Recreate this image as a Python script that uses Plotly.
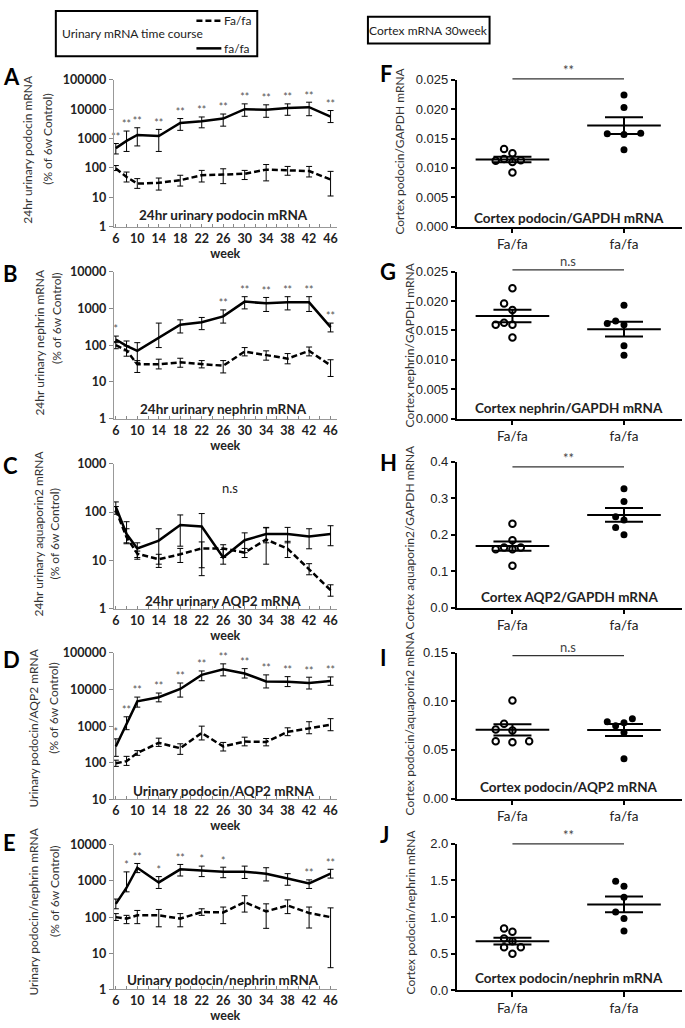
import numpy as np
import plotly.graph_objects as go

W, H = 685, 1028

weeks = [6, 8, 10, 14, 18, 22, 26, 30, 34, 38, 42, 46]

# ---- urinary time course (% of 6w control); het = Fa/fa, obe = fa/fa ----
a_het = [95, 49, 29, 31, 38, 56, 59, 63, 87, 82, 78, 40]
a_het_hi = [120, 72, 43, 45, 56, 82, 93, 82, 130, 112, 112, 76]
a_het_lo = [81, 33, 20, 17.5, 24, 33, 29, 40, 36, 56, 49, 11]
a_obe = [472, 830, 1320, 1220, 3400, 3900, 4800, 10000, 9600, 11000, 11700, 5600]
a_obe_hi = [676, 1800, 2330, 2050, 4800, 5430, 6850, 15200, 14100, 15200, 17300, 9000]
a_obe_lo = [298, 363, 560, 363, 1900, 2320, 2640, 5740, 5300, 6200, 6000, 3500]
a_stars = ["**"] * 12

b_het = [100, 72, 30, 30, 34, 30, 27.5, 67, 53, 43, 70, 28]
b_het_hi = [125, 95, 38, 41.5, 44, 38, 38, 86, 70, 59, 89, 40]
b_het_lo = [80, 50, 18, 22.5, 25, 24, 17.5, 51, 39, 31, 51, 14]
b_obe = [143, 96, 70, 160, 360, 420, 610, 1540, 1380, 1470, 1470, 310]
b_obe_hi = [177, 130, 117, 400, 490, 570, 915, 2100, 2000, 2100, 2100, 400]
b_obe_lo = [117, 70, 34, 86, 215, 265, 400, 975, 830, 915, 830, 230]
b_stars = ["*", "", "", "", "", "", "**", "**", "**", "**", "**", "**"]

c_het = [110, 30, 13.7, 10.5, 13.3, 17.6, 17.6, 14.4, 27, 17.3, 6.5, 2.4]
c_het_hi = [130, 45, 15.5, 13.3, 17.6, 24, 21, 17.6, 47, 24.7, 8.5, 3.1]
c_het_lo = [90, 22, 11.4, 7.1, 9, 7, 11.4, 11.4, 8.3, 11.4, 5, 1.8]
c_obe = [128, 35, 17.6, 25.6, 54, 50, 11.4, 26, 35, 35, 31, 35]
c_obe_hi = [162, 63, 23, 45, 87, 93, 16.7, 37, 48, 48, 45, 52]
c_obe_lo = [101, 23, 10.5, 8.3, 19.6, 4.8, 8.3, 14.4, 23, 23, 17.3, 20]
c_stars = [""] * 12

d_het = [97, 111, 186, 350, 250, 650, 280, 380, 370, 700, 870, 1100]
d_het_hi = [118, 150, 215, 470, 330, 1000, 360, 500, 460, 900, 1320, 1600]
d_het_lo = [80, 85, 160, 280, 170, 420, 210, 290, 290, 550, 620, 750]
d_obe = [280, 1200, 4740, 6150, 10300, 25000, 35500, 27300, 16600, 16300, 15000, 17000]
d_obe_hi = [450, 1800, 6200, 8000, 15000, 32000, 50000, 37000, 25000, 22400, 21600, 22000]
d_obe_lo = [150, 800, 3300, 4600, 6200, 17300, 23500, 20500, 11000, 12000, 10300, 13000]
d_stars = ["*"] + ["**"] * 11

e_het = [100, 91, 112, 112, 91, 138, 135, 260, 144, 210, 130, 100]
e_het_hi = [125, 112, 153, 163, 125, 170, 190, 390, 233, 300, 190, 180]
e_het_lo = [81, 66, 66, 54, 54, 112, 66, 138, 49, 125, 50, 4]
e_obe = [233, 650, 2320, 910, 2090, 1960, 1800, 1800, 1590, 1170, 850, 1600]
e_obe_hi = [316, 1780, 3040, 1320, 2860, 2570, 2400, 2570, 2320, 1590, 1070, 2100]
e_obe_lo = [170, 500, 1700, 620, 1370, 1320, 1230, 1170, 1000, 760, 620, 1200]
e_stars = ["", "*", "**", "*", "**", "*", "*", "", "", "", "**", "**"]

# ---- cortex mRNA at 30 weeks ----
groups = ["Fa/fa", "fa/fa"]
f_het = [0.0125, 0.0132, 0.0115, 0.0113, 0.0110, 0.0112, 0.0092]
f_obe = [0.0224, 0.0203, 0.0158, 0.0157, 0.0159, 0.0131]
g_het = [0.0222, 0.0196, 0.0185, 0.0160, 0.0160, 0.0163, 0.0138]
g_obe = [0.0193, 0.0166, 0.0160, 0.0162, 0.0124, 0.0108]
h_het = [0.230, 0.185, 0.165, 0.160, 0.165, 0.160, 0.115]
h_obe = [0.326, 0.291, 0.249, 0.240, 0.220, 0.200]
i_het = [0.101, 0.077, 0.071, 0.070, 0.059, 0.058, 0.059]
i_obe = [0.082, 0.079, 0.078, 0.075, 0.068, 0.041]
j_het = [0.845, 0.80, 0.71, 0.67, 0.59, 0.59, 0.50]
j_obe = [1.49, 1.42, 1.27, 1.07, 0.98, 0.81]


def px(x):
    return x / W


def py(y):
    return 1 - y / H


def ax_ids(n):
    s = "" if n == 1 else str(n)
    return "x" + s, "y" + s, "xaxis" + s, "yaxis" + s


FONT = "Lato"
TXT = "#222"

left = [
    dict(het=(a_het, a_het_hi, a_het_lo), obe=(a_obe, a_obe_hi, a_obe_lo), stars=a_stars,
         rows=(73, 222), yr=(0, 5), title="24hr urinary podocin mRNA", ty=0.08,
         yt1="24hr urinary podocin mRNA", yt2="(% of 6w Control)", tpos=((27, 143), (47, 133)),
         letter="A", lpos=70),
    dict(het=(b_het, b_het_hi, b_het_lo), obe=(b_obe, b_obe_hi, b_obe_lo), stars=b_stars,
         rows=(268, 417), yr=(0, 4), title="24hr urinary nephrin mRNA", ty=0.067,
         yt1="24hr urinary nephrin mRNA", yt2="(% of 6w Control)", tpos=((39, 339), (55, 315)),
         letter="B", lpos=270),
    dict(het=(c_het, c_het_hi, c_het_lo), obe=(c_obe, c_obe_hi, c_obe_lo), stars=c_stars,
         rows=(463, 610), yr=(0, 3), title="24hr urinary AQP2 mRNA", ty=0.055,
         yt1="24hr urinary aquaporin2 mRNA", yt2="(% of 6w Control)", tpos=((38, 534), (54, 534)),
         letter="C", lpos=465),
    dict(het=(d_het, d_het_hi, d_het_lo), obe=(d_obe, d_obe_hi, d_obe_lo), stars=d_stars,
         rows=(655, 804), yr=(1, 5), title="Urinary podocin/AQP2 mRNA", ty=0.06,
         yt1="Urinary podocin/AQP2 mRNA", yt2="(% of 6w Control)", tpos=((33, 731), (53, 711)),
         letter="D", lpos=662),
    dict(het=(e_het, e_het_hi, e_het_lo), obe=(e_obe, e_obe_hi, e_obe_lo), stars=e_stars,
         rows=(850, 997), yr=(0, 4), title="Urinary podocin/nephrin mRNA", ty=0.063,
         yt1="Urinary podocin/nephrin mRNA", yt2="(% of 6w Control)", tpos=((33, 918), (53, 897)),
         letter="E", lpos=848),
]

right = [
    dict(het=f_het, obe=f_obe, rows=(73, 222), top=0.025, dt=0.005, fmt=".3f",
         sig="**", sy=1.007, title="Cortex podocin/GAPDH mRNA", ty=0.058,
         yt="Cortex podocin/GAPDH mRNA", tpos=(400, 145), letter="F", lpos=67),
    dict(het=g_het, obe=g_obe, rows=(268, 417), top=0.025, dt=0.005, fmt=".3f",
         sig="n.s", sy=1.013, title="Cortex nephrin/GAPDH mRNA", ty=0.07,
         yt="Cortex nephrin/GAPDH mRNA", tpos=(410, 342), letter="G", lpos=268),
    dict(het=h_het, obe=h_obe, rows=(461, 609), top=0.4, dt=0.1, fmt=".1f",
         sig="**", sy=0.966, title="Cortex AQP2/GAPDH mRNA", ty=0.074,
         yt="Cortex aquaporin2/GAPDH mRNA", tpos=(410, 537), letter="H", lpos=462),
    dict(het=i_het, obe=i_obe, rows=(655, 803), top=0.15, dt=0.05, fmt=".2f",
         sig="n.s", sy=0.98, title="Cortex podocin/AQP2 mRNA", ty=0.076,
         yt="Cortex podocin/aquaporin2 mRNA", tpos=(410, 727), letter="I", lpos=660),
    dict(het=j_het, obe=j_obe, rows=(849, 998), top=2.0, dt=0.5, fmt=".1f",
         sig="**", sy=1.0, title="Cortex podocin/nephrin mRNA", ty=0.083,
         yt="Cortex podocin/nephrin mRNA", tpos=(411, 918), letter="J", lpos=840),
]


def swarm(vals, unit_px, slot=0.075, slot_px=8.4, diam=8.5):
    pos = {}
    for i in np.argsort(vals):
        for k in (0, -1, 1, -2, 2, -3, 3):
            hit = False
            for j, kj in pos.items():
                dy = abs(vals[i] - vals[j]) * unit_px
                dx = abs(k - kj) * slot_px
                if dx * dx + dy * dy < diam * diam:
                    hit = True
                    break
            if not hit:
                pos[i] = k
                break
    return [pos[i] * slot for i in range(len(vals))]


fig = go.Figure()
layout = {}
annotations = []
shapes = []

# left: urinary time course
for n, p in enumerate(left, start=1):
    xa, ya, xkey, ykey = ax_ids(n)
    for key, dash in (("het", "6px,3px"), ("obe", "solid")):
        m, hi, lo = p[key]
        fig.add_trace(go.Scatter(
            x=weeks, y=m, xaxis=xa, yaxis=ya, mode="lines",
            line=dict(color="black", width=2.5, dash=dash),
            error_y=dict(type="data", symmetric=False,
                         array=[h - v for h, v in zip(hi, m)],
                         arrayminus=[v - l for v, l in zip(m, lo)],
                         color="black", thickness=1, width=3),
            showlegend=False))
    fig.add_trace(go.Scatter(
        x=weeks, y=p["obe"][1], xaxis=xa, yaxis=ya, mode="text", text=p["stars"],
        textposition="top center", cliponaxis=False,
        textfont=dict(family=FONT, size=10.5, color="#555"), showlegend=False))
    top, bot = p["rows"]
    lo_d, hi_d = p["yr"]
    tv = [10 ** k for k in range(lo_d, hi_d + 1)]
    layout[xkey] = dict(
        domain=[px(113), px(337)], anchor=ya, range=[5.6, 47.2],
        tick0=6, dtick=4, ticks="inside", ticklen=3, tickcolor="#888",
        minor=dict(tick0=6, dtick=2, ticks="inside", ticklen=3, tickcolor="#888"),
        showline=True, linecolor="#999", linewidth=1, showgrid=False, zeroline=False,
        tickfont=dict(family=FONT, size=12.5, color=TXT, weight="bold"),
        title=dict(text="week", standoff=3, font=dict(family=FONT, size=12.5, color=TXT, weight="bold")))
    layout[ykey] = dict(
        domain=[py(bot), py(top)], anchor=xa, type="log", range=[lo_d, hi_d],
        tickvals=tv, ticktext=[str(v) for v in tv], ticks="outside", ticklen=4,
        tickcolor="#888", showline=True, linecolor="#999", linewidth=1,
        showgrid=False, zeroline=False,
        tickfont=dict(family=FONT, size=12.5, color=TXT, weight="bold"))
    annotations.append(dict(
        xref=f"{xa} domain", yref=f"{ya} domain", x=0.49, y=p["ty"], text=p["title"],
        showarrow=False, xanchor="center", yanchor="middle",
        font=dict(family=FONT, size=13.5, color=TXT, weight="bold")))
    for txt, (tx, tyy) in zip((p["yt1"], p["yt2"]), p["tpos"]):
        annotations.append(dict(
            xref="paper", yref="paper", x=px(tx), y=py(tyy), text=txt, textangle=-90,
            showarrow=False, xanchor="center", yanchor="middle",
            font=dict(family=FONT, size=12, color="#333")))
    annotations.append(dict(
        xref="paper", yref="paper", x=px(0), y=py(p["lpos"]), text=p["letter"],
        showarrow=False, xanchor="left", yanchor="middle",
        font=dict(family=FONT, size=22, color="black", weight="bold")))

annotations.append(dict(
    xref="x3 domain", yref="y3 domain", x=0.52, y=0.905, text="n.s", showarrow=False,
    font=dict(family=FONT, size=13, color=TXT)))

# right: cortex scatter
for n, p in enumerate(right, start=6):
    xa, ya, xkey, ykey = ax_ids(n)
    top, bot = p["rows"]
    unit_px = (bot - top) / p["top"]
    for c, (vals, sym) in enumerate(((p["het"], "circle-open"), (p["obe"], "circle"))):
        offs = swarm(vals, unit_px)
        fig.add_trace(go.Scatter(
            x=[c + o for o in offs], y=vals, xaxis=xa, yaxis=ya, mode="markers",
            marker=dict(symbol=sym, size=7 if sym == "circle" else 6.5, color="black",
                        line=dict(color="black", width=0 if sym == "circle" else 2)),
            cliponaxis=False, showlegend=False))
        mean = float(np.mean(vals))
        sem = float(np.std(vals, ddof=1) / np.sqrt(len(vals)))
        fig.add_trace(go.Scatter(
            x=[c - 0.33, c + 0.33], y=[mean, mean], xaxis=xa, yaxis=ya, mode="lines",
            line=dict(color="black", width=2), showlegend=False))
        fig.add_trace(go.Scatter(
            x=[c], y=[mean], xaxis=xa, yaxis=ya, mode="markers",
            marker=dict(size=1, opacity=0),
            error_y=dict(type="data", array=[sem], color="black", thickness=2, width=19),
            showlegend=False))
    layout[xkey] = dict(
        domain=[px(457), px(683)], anchor=ya, range=[-0.5, 1.52],
        tickvals=[0, 1], ticktext=groups, ticks="outside", ticklen=5, tickwidth=1.5,
        tickcolor="black", showline=True, linecolor="black", linewidth=1.5,
        showgrid=False, zeroline=False,
        tickfont=dict(family=FONT, size=13.5, color=TXT))
    layout[ykey] = dict(
        domain=[py(bot), py(top)], anchor=xa, range=[0, p["top"]],
        tick0=0, dtick=p["dt"], tickformat=p["fmt"], ticks="outside", ticklen=4,
        tickwidth=1.5, tickcolor="black", showline=True, linecolor="black",
        linewidth=1.5, showgrid=False, zeroline=False,
        tickfont=dict(family="Liberation Sans", size=13, color=TXT))
    shapes.append(dict(type="line", xref=xa, yref=f"{ya} domain", x0=0, x1=1,
                       y0=p["sy"], y1=p["sy"], line=dict(color="#333", width=1.3)))
    annotations.append(dict(
        xref=xa, yref=f"{ya} domain", x=0.5, y=p["sy"], text=p["sig"], showarrow=False,
        xanchor="center", yanchor="bottom", yshift=-1,
        font=dict(family=FONT, size=13, color="#444")))
    annotations.append(dict(
        xref=f"{xa} domain", yref=f"{ya} domain", x=0.5, y=p["ty"], text=p["title"],
        showarrow=False, xanchor="center", yanchor="middle",
        font=dict(family=FONT, size=13.5, color=TXT, weight="bold")))
    tx, tyy = p["tpos"]
    annotations.append(dict(
        xref="paper", yref="paper", x=px(tx), y=py(tyy), text=p["yt"], textangle=-90,
        showarrow=False, xanchor="center", yanchor="middle",
        font=dict(family=FONT, size=12, color="#333")))
    annotations.append(dict(
        xref="paper", yref="paper", x=px(378), y=py(p["lpos"]), text=p["letter"],
        showarrow=False, xanchor="left", yanchor="middle",
        font=dict(family=FONT, size=22, color="black", weight="bold")))

# header boxes / legend
shapes += [
    dict(type="rect", xref="paper", yref="paper", x0=px(55), x1=px(257), y0=py(49), y1=py(3),
         line=dict(color="black", width=2)),
    dict(type="line", xref="paper", yref="paper", x0=px(196), x1=px(221), y0=py(13), y1=py(13),
         line=dict(color="black", width=2.5, dash="6px,3px")),
    dict(type="line", xref="paper", yref="paper", x0=px(196), x1=px(221), y0=py(41), y1=py(41),
         line=dict(color="black", width=2.5)),
    dict(type="rect", xref="paper", yref="paper", x0=px(368), x1=px(490), y0=py(36), y1=py(9),
         line=dict(color="black", width=2)),
]
hdr = dict(family=FONT, size=12, color=TXT)
annotations += [
    dict(xref="paper", yref="paper", x=px(59), y=py(26), text="Urinary mRNA time course",
         showarrow=False, xanchor="left", yanchor="middle", font=hdr),
    dict(xref="paper", yref="paper", x=px(222), y=py(13), text="Fa/fa",
         showarrow=False, xanchor="left", yanchor="middle", font=hdr),
    dict(xref="paper", yref="paper", x=px(222), y=py(41), text="fa/fa",
         showarrow=False, xanchor="left", yanchor="middle", font=hdr),
    dict(xref="paper", yref="paper", x=px(429), y=py(23), text="Cortex mRNA 30week",
         showarrow=False, xanchor="center", yanchor="middle", font=hdr),
]

fig.update_layout(
    width=W, height=H, margin=dict(l=0, r=0, t=0, b=0),
    paper_bgcolor="white", plot_bgcolor="white", showlegend=False,
    annotations=annotations, shapes=shapes, **layout)

fig.write_html("out.html", config={"displayModeBar": False},
               post_script="document.body.style.margin='0';document.body.style.overflow='hidden';")
